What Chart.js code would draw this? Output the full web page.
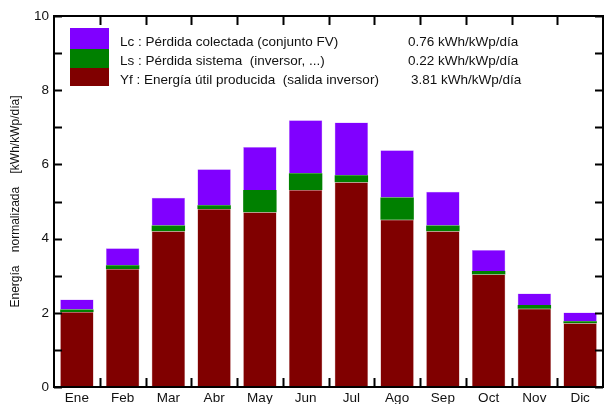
<!DOCTYPE html>
<html>
<head>
<meta charset="utf-8">
<script src="https://cdn.jsdelivr.net/npm/chart.js@4"></script>
<style>
  html, body { margin: 0; padding: 0; background: #fff; }
  #wrap { width: 605px; height: 404px; position: relative; }
</style>
</head>
<body>
<div id="wrap"><canvas id="pvChart" width="605" height="404"></canvas></div>
<script>
// Monthly normalized energy values (kWh/kWp/dia)
const months = ['Ene', 'Feb', 'Mar', 'Abr', 'May', 'Jun', 'Jul', 'Ago', 'Sep', 'Oct', 'Nov', 'Dic'];
const yfValues = [2.02, 3.18, 4.20, 4.80, 4.71, 5.31, 5.52, 4.51, 4.20, 3.03, 2.11, 1.72];
const lsValues = [0.07, 0.10, 0.15, 0.10, 0.60, 0.45, 0.19, 0.60, 0.15, 0.10, 0.10, 0.05];
const lcValues = [0.27, 0.46, 0.75, 0.97, 1.16, 1.43, 1.42, 1.27, 0.91, 0.56, 0.31, 0.24];
const yTicks = [0, 2, 4, 6, 8, 10];

const legendRows = [
  { color: '#8000ff', label: 'Lc : Pérdida colectada (conjunto FV)', value: '0.76 kWh/kWp/día' },
  { color: '#008000', label: 'Ls : Pérdida sistema  (inversor, ...)', value: '0.22 kWh/kWp/día' },
  { color: '#800000', label: 'Yf : Energía útil producida  (salida inversor)', value: '3.81 kWh/kWp/día' }
];

const FONT = 'Arial, "Liberation Sans", sans-serif';

// frame, inward ticks and the legend box
const framePlugin = {
  id: 'frame',
  afterDraw(chart) {
    const { ctx, chartArea: a, scales } = chart;
    const x = scales.x, y = scales.y;
    ctx.save();
    ctx.strokeStyle = '#000';
    ctx.lineWidth = 2;
    ctx.strokeRect(a.left, a.top, a.right - a.left, a.bottom - a.top);

    // y ticks (major even, minor odd), both sides
    for (let v = 0; v <= 10; v++) {
      const py = Math.round(y.getPixelForValue(v)) + 0.5;
      const len = 8;
      ctx.beginPath();
      ctx.moveTo(a.left, py); ctx.lineTo(a.left + len, py);
      ctx.moveTo(a.right, py); ctx.lineTo(a.right - len, py);
      ctx.stroke();
    }
    // x ticks at category boundaries, top and bottom
    const half = (x.getPixelForValue(1) - x.getPixelForValue(0)) / 2;
    for (let i = 0; i < months.length - 1; i++) {
      const px = Math.round(x.getPixelForValue(i) + half) + 0.5;
      ctx.beginPath();
      ctx.moveTo(px, a.bottom); ctx.lineTo(px, a.bottom - 9);
      ctx.moveTo(px, a.top); ctx.lineTo(px, a.top + 9);
      ctx.stroke();
    }

    // legend
    ctx.font = '13.5px ' + FONT;
    ctx.textBaseline = 'middle';
    legendRows.forEach((r, i) => {
      const top = [28, 49, 68][i];
      const h = [21, 19, 18][i];
      ctx.fillStyle = r.color;
      ctx.fillRect(70, top, 39, h);
      ctx.fillStyle = '#111';
      ctx.fillText(r.label, 120, 42 + i * 19);
      ctx.fillText(r.value, i === 2 ? 411 : 408, 42 + i * 19);
    });
    ctx.restore();
  }
};

const ctx = document.getElementById('pvChart').getContext('2d');
new Chart(ctx, {
  type: 'bar',
  data: {
    labels: months,
    datasets: [
      { label: 'Yf', data: yfValues, backgroundColor: '#800000', borderColor: '#c89090', borderWidth: 0.5 },
      { label: 'Ls', data: lsValues, backgroundColor: '#008000', borderColor: '#008000', borderWidth: 0 },
      { label: 'Lc', data: lcValues, backgroundColor: '#8000ff', borderColor: '#c890ff', borderWidth: 0.5 }
    ]
  },
  options: {
    responsive: false,
    animation: false,
    layout: { padding: { top: 16, right: 2, left: 0, bottom: 0 } },
    plugins: { legend: { display: false }, tooltip: { enabled: false } },
    datasets: { bar: { categoryPercentage: 0.73, barPercentage: 1 } },
    scales: {
      x: {
        stacked: true,
        offset: true,
        grid: { display: false, drawTicks: false },
        border: { display: false },
        ticks: { color: '#111', font: { family: FONT, size: 13.5 }, padding: 3 },
        afterFit(s) { s.height = 17; }
      },
      y: {
        stacked: true,
        min: 0,
        max: 10,
        afterBuildTicks(s) { s.ticks = yTicks.map(v => ({ value: v })); },
        grid: { display: false, drawTicks: false },
        border: { display: false },
        ticks: { color: '#111', font: { family: FONT, size: 13.5 }, padding: 5 },
        title: {
          display: true,
          text: 'Energía\u00a0\u00a0\u00a0\u00a0normalizada\u00a0\u00a0\u00a0\u00a0[kWh/kWp/día]',
          color: '#111',
          font: { family: FONT, size: 12 },
          padding: { top: 8, bottom: 0 }
        },
        afterFit(s) { s.width = 54; }
      }
    }
  },
  plugins: [framePlugin]
});
</script>
</body>
</html>
